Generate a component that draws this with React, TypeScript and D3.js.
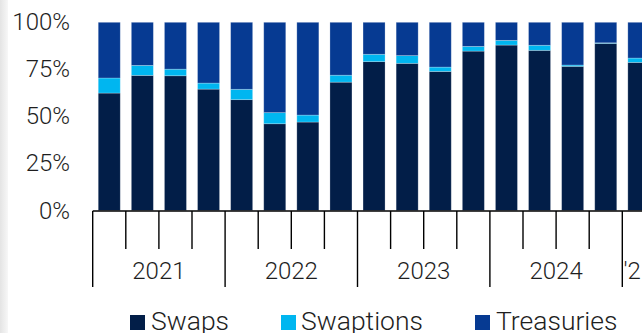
import React from "react";
import * as d3 from "d3";

const quarters = ["2021Q1","2021Q2","2021Q3","2021Q4","2022Q1","2022Q2","2022Q3","2022Q4","2023Q1","2023Q2","2023Q3","2023Q4","2024Q1","2024Q2","2024Q3","2024Q4","2025Q1"];
const swaps = [62.4, 71.8, 71.6, 64.5, 58.9, 46.1, 47.0, 68.2, 79.1, 78.2, 73.9, 84.7, 87.9, 85.1, 76.6, 88.8, 78.7];
const swaptions = [8.0, 5.3, 3.5, 3.2, 5.5, 5.9, 3.7, 3.7, 3.9, 4.1, 2.3, 2.5, 2.5, 2.7, 0.7, 0.3, 2.3];
const treasuries = [29.6, 22.9, 24.9, 32.3, 35.6, 48.0, 49.3, 28.1, 17.0, 17.7, 23.8, 12.8, 9.6, 12.2, 22.7, 10.9, 19.0];
const years = ["2021", "2022", "2023", "2024", "'25"];
const yTicks = [0, 25, 50, 75, 100];
const seriesNames = ["Swaps", "Swaptions", "Treasuries"];
const colors = ["#021e48", "#00b6f0", "#063a92"];

const W = 642, H = 333;
const x0 = 92.7, step = 33.1;
const yTop = 22.3, yBot = 210.5;
const font = "Roboto, 'Noto Sans', sans-serif";

export default function App() {
  const x = d3.scaleBand<string>()
    .domain(quarters)
    .range([x0, x0 + step * quarters.length])
    .paddingInner(0.335)
    .paddingOuter(0.1675);
  const y = d3.scaleLinear().domain([0, 100]).range([yBot, yTop]);

  const rows = quarters.map((q, i) => ({ q, Swaps: swaps[i], Swaptions: swaptions[i], Treasuries: treasuries[i] }));
  const stack = d3.stack<any>().keys(seriesNames)(rows);

  const stepPx = x.step();
  const axisStart = x.range()[0];
  const yearGroups = years.map((yr, k) => {
    const qs = quarters.filter(q => q.slice(2, 4) === (k < 4 ? yr.slice(2) : "25"));
    const start = axisStart + quarters.indexOf(qs[0]) * stepPx;
    const end = start + qs.length * stepPx;
    return { yr, start, end };
  });

  const legendItems = [
    { name: "Swaps", sx: 130, tx: 151 },
    { name: "Swaptions", sx: 281, tx: 301 },
    { name: "Treasuries", sx: 475, tx: 496 },
  ];

  return (
    <svg width={W} height={H} style={{ position: "absolute", left: 0, top: 0, background: "#fff" }}>
      <defs>
        <linearGradient id="edge" x1="0" x2="1" y1="0" y2="0">
          <stop offset="0" stopColor="#e4e4e4" />
          <stop offset="1" stopColor="#f7f7f7" />
        </linearGradient>
      </defs>
      <rect x={0} y={0} width={W} height={H} fill="#fff" />
      <rect x={0} y={0} width={8} height={H} fill="url(#edge)" />

      {yTicks.map(t => (
        <text key={t} x={70} y={y(t)} textAnchor="end" dominantBaseline="central"
          fontFamily={font} fontWeight={300} fontSize={24} fill="#1e1e1e">{t}%</text>
      ))}

      {stack.map((s, si) => (
        <g key={s.key} fill={colors[si]}>
          {s.map((d, i) => (
            <rect key={i} x={x(quarters[i])} width={x.bandwidth()}
              y={y(d[1])} height={Math.max(0, y(d[0]) - y(d[1]))}
              stroke="#ffffff" strokeOpacity={0.3} strokeWidth={0.8} />
          ))}
        </g>
      ))}

      <line x1={axisStart} x2={W} y1={211} y2={211} stroke="#000" strokeWidth={1.6} />
      {quarters.map((q, i) => i > 0 && !q.endsWith("Q1") ? (
        <line key={q} x1={axisStart + i * stepPx} x2={axisStart + i * stepPx} y1={211} y2={249} stroke="#000" strokeWidth={1.4} />
      ) : null)}
      {yearGroups.map(g => (
        <g key={g.yr}>
          <line x1={g.start} x2={g.start} y1={211} y2={287} stroke="#000" strokeWidth={1.4} />
          <text x={(g.start + g.end) / 2} y={279} textAnchor="middle"
            fontFamily={font} fontWeight={300} fontSize={24} fill="#1e1e1e">{g.yr}</text>
        </g>
      ))}

      {legendItems.map((l, i) => (
        <g key={l.name}>
          <rect x={l.sx} y={315} width={15} height={15} fill={colors[i]} />
          <text x={l.tx} y={330} fontFamily={font} fontWeight={300} fontSize={26.5} fill="#1e1e1e">{l.name}</text>
        </g>
      ))}
    </svg>
  );
}
